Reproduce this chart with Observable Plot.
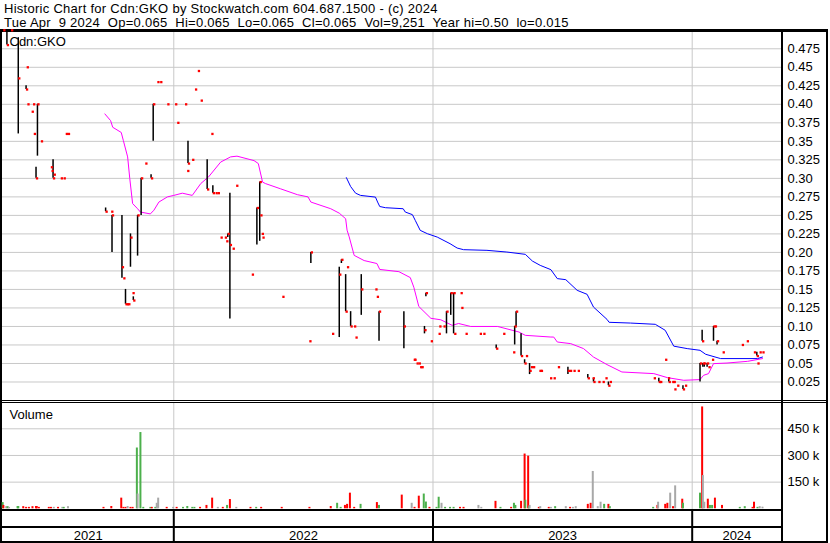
<!DOCTYPE html>
<html><head><meta charset="utf-8">
<script src="https://cdn.jsdelivr.net/npm/d3@7"></script>
<script src="https://cdn.jsdelivr.net/npm/@observablehq/plot@0.6"></script>
<style>
html,body{margin:0;padding:0;background:#fff;}
#wrap{position:relative;width:830px;height:543px;overflow:hidden;font-family:"Liberation Sans",Arial,sans-serif;color:#000;}
.hd{position:absolute;left:4px;font-size:13px;line-height:14px;white-space:pre;letter-spacing:0.27px;}
.ln{position:absolute;background:#000;}
.pl{position:absolute;left:0;}
</style></head><body><div id="wrap">
<div class="hd" id="h1" style="top:2px"></div>
<div class="hd" id="h2" style="top:16px"></div>
<div class="ln" style="left:0;top:29px;width:828px;height:3px"></div>
<div class="ln" style="left:0;top:29px;width:2px;height:514px"></div>
<div class="ln" style="left:826px;top:29px;width:2px;height:514px"></div>
<div class="ln" style="left:781px;top:29px;width:2px;height:514px"></div>
<div class="ln" style="left:0;top:400px;width:828px;height:1px"></div>
<div class="ln" style="left:0;top:402px;width:828px;height:1px"></div>
<div class="ln" style="left:0;top:509px;width:783px;height:2px"></div>
<div class="ln" style="left:0;top:526px;width:783px;height:2px"></div>
<div class="ln" style="left:0;top:541px;width:828px;height:2px"></div>
<div class="pl" id="price" style="top:32px"></div>
<div class="pl" id="volume" style="top:403px"></div>
</div>
<script>
// ---- header info ----
const ticker = "Cdn:GKO";
const headerTitle = "Historic Chart for Cdn:GKO by Stockwatch.com 604.687.1500 - (c) 2024";
const lastDay = "Tue Apr  9 2024";
const lastOp = "0.065", lastHi = "0.065", lastLo = "0.065", lastCl = "0.065", lastVol = "9,251";
const yearHi = "0.50", yearLo = "0.015";

// ---- axes ----
const priceTicks = [0.025,0.05,0.075,0.10,0.125,0.15,0.175,0.20,0.225,0.25,0.275,0.30,0.325,0.35,0.375,0.40,0.425,0.45,0.475];
const priceTickLabels = ["0.025","0.05","0.075","0.10","0.125","0.15","0.175","0.20","0.225","0.25","0.275","0.30","0.325","0.35","0.375","0.40","0.425","0.45","0.475"];
const volTicks = [150000, 300000, 450000];
const volTickLabels = ["150 k","300 k","450 k"];
const years = [2021, 2022, 2023, 2024];
const yearStarts = ["2022-01-01","2023-01-01","2024-01-01"];

// ---- daily bars: [date, high, low, close] ----
const priceBars = [
["2021-05-06",.50,.50,.50],["2021-05-11",.50,.48,.48],["2021-05-17",.50,.50,.50],["2021-05-27",.49,.36,.435],
["2021-06-07",.425,.42,.42],["2021-06-08",.45,.45,.45],["2021-06-09",.40,.40,.40],["2021-06-15",.39,.39,.39],
["2021-06-17",.40,.40,.40],["2021-06-18",.36,.36,.36],["2021-06-21",.315,.30,.30],["2021-06-23",.40,.33,.40],
["2021-06-28",.35,.35,.35],["2021-07-12",.315,.315,.315],["2021-07-13",.31,.31,.31],["2021-07-15",.325,.30,.30],
["2021-07-16",.305,.305,.305],["2021-07-26",.30,.30,.30],["2021-07-30",.30,.30,.30],["2021-08-02",.36,.36,.36],
["2021-08-05",.36,.36,.36],["2021-09-27",.26,.255,.255],["2021-10-05",.255,.255,.255],["2021-10-06",.25,.20,.25],
["2021-10-20",.25,.165,.18],["2021-10-22",.165,.165,.165],["2021-10-25",.15,.13,.13],["2021-10-27",.13,.13,.13],
["2021-10-29",.13,.13,.13],["2021-11-01",.225,.18,.22],["2021-11-04",.145,.145,.145],["2021-11-05",.14,.135,.135],
["2021-11-11",.25,.195,.25],["2021-11-16",.30,.25,.30],["2021-11-22",.32,.32,.32],["2021-11-30",.305,.30,.30],
["2021-12-03",.40,.35,.40],["2021-12-09",.43,.43,.43],["2021-12-13",.43,.43,.43],["2021-12-23",.40,.40,.40],
["2022-01-03",.40,.40,.40],["2022-01-06",.375,.375,.375],["2022-01-17",.40,.40,.40],["2022-01-20",.31,.31,.31],
["2022-01-21",.35,.32,.32],["2022-01-27",.325,.325,.325],["2022-01-31",.42,.42,.42],["2022-02-04",.445,.445,.445],
["2022-02-08",.405,.405,.405],["2022-02-17",.325,.285,.285],["2022-02-23",.36,.36,.36],["2022-02-25",.29,.28,.28],
["2022-03-01",.28,.28,.28],["2022-03-04",.28,.28,.28],["2022-03-08",.22,.22,.22],["2022-03-14",.22,.22,.22],
["2022-03-16",.215,.215,.215],["2022-03-18",.225,.22,.225],["2022-03-21",.28,.11,.21],["2022-03-25",.205,.205,.205],
["2022-03-30",.29,.29,.29],["2022-04-21",.17,.17,.17],["2022-04-28",.26,.21,.26],["2022-05-02",.295,.215,.295],
["2022-05-03",.25,.25,.25],["2022-05-05",.225,.225,.225],["2022-05-06",.22,.22,.22],["2022-06-03",.14,.14,.14],
["2022-07-11",.08,.08,.08],["2022-07-13",.20,.185,.20],["2022-08-12",.09,.09,.09],["2022-08-22",.18,.085,.17],
["2022-08-25",.19,.185,.19],["2022-08-31",.17,.12,.12],["2022-09-02",.18,.18,.18],["2022-09-07",.12,.10,.10],
["2022-09-12",.10,.10,.10],["2022-09-14",.085,.085,.085],["2022-09-22",.17,.115,.15],["2022-10-12",.15,.15,.15],
["2022-10-14",.14,.14,.14],["2022-10-17",.12,.08,.12],["2022-11-21",.12,.07,.10],["2022-12-05",.055,.055,.055],
["2022-12-06",.055,.055,.055],["2022-12-09",.05,.05,.05],["2022-12-12",.05,.05,.05],["2022-12-14",.045,.045,.045],
["2022-12-16",.045,.045,.045],["2022-12-20",.10,.09,.095],["2022-12-22",.145,.14,.145],["2022-12-29",.08,.08,.08],
["2023-01-09",.09,.09,.09],["2023-01-10",.10,.10,.10],["2023-01-16",.10,.10,.10],["2023-01-20",.12,.09,.12],
["2023-01-26",.145,.115,.145],["2023-01-30",.145,.09,.145],["2023-01-31",.09,.09,.09],["2023-02-09",.145,.145,.145],
["2023-02-10",.125,.125,.125],["2023-02-16",.09,.09,.09],["2023-03-08",.09,.09,.09],["2023-03-13",.09,.09,.09],
["2023-03-31",.075,.07,.07],["2023-04-10",.09,.09,.09],["2023-04-24",.065,.065,.065],["2023-04-26",.10,.075,.10],
["2023-04-28",.12,.10,.12],["2023-05-05",.09,.06,.06],["2023-05-10",.055,.05,.05],["2023-05-12",.06,.06,.06],
["2023-05-17",.05,.035,.04],["2023-05-19",.045,.045,.045],["2023-05-22",.045,.045,.045],["2023-05-31",.04,.04,.04],
["2023-06-02",.04,.04,.04],["2023-06-15",.03,.03,.03],["2023-06-20",.03,.03,.03],["2023-06-26",.045,.045,.045],
["2023-07-10",.045,.035,.04],["2023-07-13",.04,.04,.04],["2023-07-18",.04,.04,.04],["2023-07-24",.04,.04,.04],
["2023-08-07",.035,.03,.03],["2023-08-14",.03,.03,.03],["2023-08-15",.03,.025,.025],["2023-08-22",.025,.025,.025],
["2023-08-28",.025,.025,.025],["2023-09-01",.03,.03,.03],["2023-09-05",.025,.02,.02],["2023-09-07",.025,.025,.025],
["2023-11-08",.03,.03,.03],["2023-11-15",.03,.025,.025],["2023-11-17",.025,.025,.025],["2023-11-24",.055,.055,.055],
["2023-11-28",.03,.03,.03],["2023-11-29",.03,.025,.025],["2023-12-04",.025,.025,.025],["2023-12-06",.025,.025,.025],
["2023-12-07",.015,.015,.015],["2023-12-11",.02,.02,.02],["2023-12-19",.02,.015,.015],["2023-12-22",.02,.02,.02],
["2024-01-12",.05,.025,.05],["2024-01-15",.095,.08,.08],["2024-01-16",.05,.045,.05],["2024-01-18",.05,.045,.05],
["2024-01-22",.05,.045,.05],["2024-01-24",.045,.045,.045],["2024-01-29",.055,.055,.055],["2024-01-31",.10,.08,.10],
["2024-02-02",.10,.10,.10],["2024-02-05",.08,.075,.08],["2024-02-13",.065,.065,.065],["2024-03-11",.075,.075,.075],
["2024-03-18",.08,.08,.08],["2024-03-28",.065,.065,.065],["2024-04-01",.065,.06,.06],["2024-04-02",.05,.05,.05],
["2024-04-05",.065,.065,.065],["2024-04-09",.065,.065,.065]
];

// ---- moving averages: [date, value] ----
const maShort = [
["2021-09-26",.387],["2021-10-04",.378],["2021-10-07",.369],["2021-10-19",.362],["2021-10-22",.351],["2021-10-28",.329],
["2021-10-31",.300],["2021-11-04",.266],["2021-11-11",.259],["2021-11-15",.2545],["2021-11-29",.252],["2021-12-04",.257],
["2021-12-11",.268],["2021-12-23",.275],["2022-01-01",.277],["2022-01-13",.280],["2022-01-27",.277],["2022-02-08",.293],
["2022-02-19",.302],["2022-03-08",.322],["2022-03-22",.329],["2022-03-31",.330],["2022-04-24",.324],["2022-04-30",.320],
["2022-05-06",.295],["2022-05-10",.293],["2022-05-31",.286],["2022-06-24",.278],["2022-07-09",.275],["2022-07-13",.268],
["2022-08-10",.259],["2022-08-22",.253],["2022-08-31",.2455],["2022-09-02",.230],["2022-09-05",.221],["2022-09-12",.196],
["2022-09-26",.189],["2022-10-14",.185],["2022-10-18",.177],["2022-11-14",.174],["2022-11-30",.166],["2022-12-05",.153],
["2022-12-12",.127],["2022-12-29",.111],["2023-01-12",.109],["2023-01-28",.1015],["2023-02-06",.104],["2023-02-23",.100],
["2023-04-02",.100],["2023-05-02",.0925],["2023-05-11",.088],["2023-06-16",.0857],["2023-06-20",.0857],["2023-06-25",.079],
["2023-07-14",.0768],["2023-08-01",.0701],["2023-08-15",.0587],["2023-09-03",.0485],["2023-09-24",.0385],["2023-11-08",.0363],
["2023-11-27",.0309],["2023-12-20",.0273],["2024-01-12",.0282],["2024-01-17",.034],["2024-01-24",.0363],["2024-01-31",.0498],
["2024-02-19",.0506],["2024-03-19",.0529],["2024-04-09",.0566]
];
const maLong = [
["2022-09-01",.301],["2022-09-07",.289],["2022-09-14",.280],["2022-09-21",.277],["2022-10-12",.2747],["2022-10-15",.268],
["2022-10-18",.262],["2022-10-26",.2604],["2022-11-20",.259],["2022-11-23",.2545],["2022-12-03",.251],["2022-12-07",.2433],
["2022-12-14",.2298],["2022-12-24",.2253],["2023-01-07",.2207],["2023-01-25",.2118],["2023-02-04",.2059],["2023-02-13",.2037],
["2023-03-18",.2028],["2023-04-15",.2005],["2023-05-11",.1974],["2023-05-21",.1883],["2023-06-01",.1825],["2023-06-16",.1767],
["2023-06-25",.1646],["2023-07-07",.1632],["2023-07-23",.1488],["2023-08-06",.1434],["2023-08-15",.1262],["2023-09-03",.1096],
["2023-09-06",.1056],["2023-10-06",.1046],["2023-11-10",.1029],["2023-11-24",.0948],["2023-12-06",.0734],["2023-12-25",.0701],
["2024-01-12",.0678],["2024-01-20",.0624],["2024-02-10",.0566],["2024-04-02",.0566],["2024-04-09",.0587]
];

// ---- volume: [date, shares, change vs prior close] ----
const volumeBars = [
["2021-05-05",35000,"up"],["2021-05-06",19000,"down"],["2021-05-10",12000,"flat"],["2021-05-12",12000,"up"],["2021-05-14",8000,"flat"],
["2021-05-26",13000,"up"],["2021-05-27",13000,"up"],["2021-06-03",12000,"down"],["2021-06-07",8000,"down"],["2021-06-11",8000,"down"],
["2021-06-16",12000,"down"],["2021-06-21",13000,"down"],["2021-06-22",13000,"down"],["2021-06-25",8000,"down"],["2021-07-09",8000,"down"],
["2021-07-12",8000,"down"],["2021-07-16",8000,"flat"],["2021-07-22",8000,"down"],["2021-07-28",8000,"flat"],["2021-07-30",8000,"up"],
["2021-08-05",12000,"flat"],["2021-09-24",8000,"down"],["2021-10-05",13000,"down"],["2021-10-19",60000,"down"],["2021-10-22",8000,"down"],
["2021-10-25",8000,"down"],["2021-10-28",13000,"flat"],["2021-11-01",8000,"down"],["2021-11-04",8000,"down"],["2021-11-10",342000,"up"],
["2021-11-11",83000,"flat"],["2021-11-15",429000,"up"],["2021-11-19",8000,"up"],["2021-11-29",8000,"up"],["2021-12-01",8000,"down"],
["2021-12-06",8000,"up"],["2021-12-08",31000,"flat"],["2021-12-10",60000,"flat"],["2021-12-22",8000,"down"],["2021-12-31",8000,"flat"],
["2022-01-05",8000,"down"],["2022-01-14",8000,"up"],["2022-01-20",13000,"up"],["2022-01-27",8000,"up"],["2022-01-30",8000,"up"],
["2022-02-07",8000,"down"],["2022-02-16",19000,"down"],["2022-02-24",60000,"down"],["2022-03-04",8000,"flat"],["2022-03-11",8000,"down"],
["2022-03-17",19000,"up"],["2022-03-21",52000,"down"],["2022-03-30",8000,"flat"],["2022-04-19",8000,"down"],["2022-04-27",8000,"up"],
["2022-05-04",8000,"down"],["2022-06-02",8000,"down"],["2022-07-11",8000,"down"],["2022-08-10",13000,"down"],["2022-08-19",31000,"up"],
["2022-08-24",8000,"up"],["2022-08-30",19000,"down"],["2022-09-02",25000,"down"],["2022-09-06",88000,"down"],["2022-09-12",8000,"down"],
["2022-09-21",25000,"up"],["2022-10-14",35000,"down"],["2022-10-17",19000,"up"],["2022-11-18",77000,"down"],["2022-12-02",31000,"flat"],
["2022-12-06",8000,"down"],["2022-12-12",71000,"down"],["2022-12-19",83000,"up"],["2022-12-22",38000,"up"],["2022-12-27",8000,"down"],
["2023-01-06",8000,"up"],["2023-01-09",65000,"up"],["2023-01-13",31000,"flat"],["2023-01-18",8000,"up"],["2023-01-25",8000,"up"],
["2023-01-30",8000,"up"],["2023-02-08",8000,"down"],["2023-02-13",8000,"down"],["2023-03-06",19000,"flat"],["2023-03-10",8000,"flat"],
["2023-03-30",42000,"down"],["2023-04-06",8000,"up"],["2023-04-21",8000,"down"],["2023-04-25",31000,"up"],["2023-04-27",19000,"up"],
["2023-05-05",42000,"down"],["2023-05-10",308000,"down"],["2023-05-11",48000,"up"],["2023-05-15",296000,"down"],["2023-05-16",12000,"up"],
["2023-05-17",19000,"flat"],["2023-05-30",8000,"down"],["2023-06-01",12000,"flat"],["2023-06-13",8000,"down"],["2023-06-16",8000,"flat"],
["2023-06-22",12000,"up"],["2023-07-07",12000,"flat"],["2023-07-13",8000,"down"],["2023-07-17",8000,"flat"],["2023-07-21",12000,"flat"],
["2023-08-07",25000,"down"],["2023-08-11",31000,"down"],["2023-08-14",210000,"flat"],["2023-08-21",12000,"flat"],["2023-08-25",37000,"flat"],
["2023-08-30",25000,"up"],["2023-09-05",25000,"down"],["2023-09-07",12000,"up"],["2023-11-07",8000,"up"],["2023-11-13",19000,"down"],
["2023-11-14",37000,"flat"],["2023-11-24",25000,"down"],["2023-11-27",31000,"down"],["2023-12-01",88000,"flat"],["2023-12-05",12000,"down"],
["2023-12-08",129000,"flat"],["2023-12-18",54000,"down"],["2023-12-19",31000,"up"],["2024-01-12",88000,"up"],["2024-01-15",573000,"down"],
["2024-01-16",187000,"flat"],["2024-01-18",37000,"flat"],["2024-01-23",54000,"down"],["2024-01-26",19000,"up"],["2024-01-29",19000,"up"],
["2024-02-02",60000,"down"],["2024-02-12",19000,"down"],["2024-03-08",8000,"up"],["2024-03-15",12000,"up"],["2024-03-26",8000,"down"],
["2024-03-28",37000,"down"],["2024-04-02",8000,"up"],["2024-04-05",12000,"flat"],["2024-04-09",9251,"flat"]
];

// ---- header ----
document.getElementById("h1").textContent = headerTitle;
document.getElementById("h2").textContent =
  `${lastDay}  Op=${lastOp}  Hi=${lastHi}  Lo=${lastLo}  Cl=${lastCl}  Vol=${lastVol}  Year hi=${yearHi}  lo=${yearLo}`;

// ---- build tables ----
const parse = s => new Date(s + "T00:00:00Z");
const bars = priceBars.map(([d,h,l,c]) => ({date: parse(d), high: h, low: l, close: c}));
const shortMA = maShort.map(([d,v]) => ({date: parse(d), value: v}));
const longMA = maLong.map(([d,v]) => ({date: parse(d), value: v}));
const vols = volumeBars.map(([d,v,c]) => ({date: parse(d), volume: v, change: c}));
const yearLines = yearStarts.map(parse);
const xDomain = [new Date("2021-05-04T19:00:00Z"), new Date("2024-05-05T18:00:00Z")];
const yearMids = years.map(y => {
  const a = Math.max(Date.UTC(y,0,1), +xDomain[0]);
  const b = Math.min(Date.UTC(y+1,0,1), +xDomain[1]);
  return new Date((a + b) / 2);
});
const priceLabel = new Map(priceTicks.map((t,i) => [t, priceTickLabels[i]]));
const volLabel = new Map(volTicks.map((t,i) => [t, volTickLabels[i]]));
const FONT = '"Liberation Sans", Arial, sans-serif';
const GRID = "#c8c8c8";

const price = Plot.plot({
  width: 830, height: 368,
  marginLeft: 2, marginRight: 49, marginTop: 0, marginBottom: 0,
  style: {fontFamily: FONT, fontSize: "13px", background: "transparent", overflow: "visible", color: "#000"},
  x: {type: "utc", domain: xDomain, axis: null},
  y: {domain: [0, 0.497]},
  marks: [
    Plot.ruleY(priceTicks, {stroke: GRID, strokeWidth: 1}),
    Plot.ruleX(yearLines, {stroke: GRID, strokeWidth: 1}),
    Plot.axisY({anchor: "right", ticks: priceTicks, tickSize: 0, tickPadding: 6, tickFormat: d => priceLabel.get(d), label: null}),
    Plot.line(shortMA, {x: "date", y: "value", stroke: "#ff00ff", strokeWidth: 1}),
    Plot.line(longMA, {x: "date", y: "value", stroke: "#0000ff", strokeWidth: 1}),
    Plot.ruleX(bars, {x: "date", y1: "low", y2: "high", stroke: "#000", strokeWidth: 1.5}),
    Plot.dot(bars, {x: "date", y: "close", symbol: "square", r: 1.3, fill: "#ff0000", dx: 1}),
    Plot.text([ticker], {frameAnchor: "top-left", textAnchor: "start", lineAnchor: "top", dx: 7, dy: 4, fontSize: 13})
  ]
});
document.getElementById("price").appendChild(price);

const volume = Plot.plot({
  width: 830, height: 140,
  marginLeft: 2, marginRight: 49, marginTop: 0, marginBottom: 34,
  style: {fontFamily: FONT, fontSize: "13px", background: "transparent", overflow: "visible", color: "#000"},
  x: {type: "utc", domain: xDomain},
  y: {domain: [0, 450000], range: [105.3, 25.3]},
  color: {domain: ["up","down","flat"], range: ["#4cb04c","#ff0000","#a8a8a8"]},
  marks: [
    Plot.ruleY(volTicks, {stroke: GRID, strokeWidth: 1}),
    Plot.ruleX(yearLines, {stroke: GRID, strokeWidth: 1}),
    Plot.ruleX(vols, {x: "date", y1: 0, y2: "volume", stroke: "change", strokeWidth: 2}),
    Plot.axisY({anchor: "right", ticks: volTicks, tickSize: 0, tickPadding: 6, tickFormat: d => volLabel.get(d), label: null}),
    Plot.axisX({ticks: yearLines, tickSize: 32, tickFormat: () => "", stroke: "#000", strokeWidth: 2, label: null}),
    Plot.axisX({ticks: yearMids, tickSize: 0, tickPadding: 21, tickFormat: d3.utcFormat("%Y"), label: null}),
    Plot.text(["Volume"], {frameAnchor: "top-left", textAnchor: "start", lineAnchor: "top", dx: 7, dy: 6, fontSize: 13})
  ]
});
document.getElementById("volume").appendChild(volume);
</script>
</body></html>
